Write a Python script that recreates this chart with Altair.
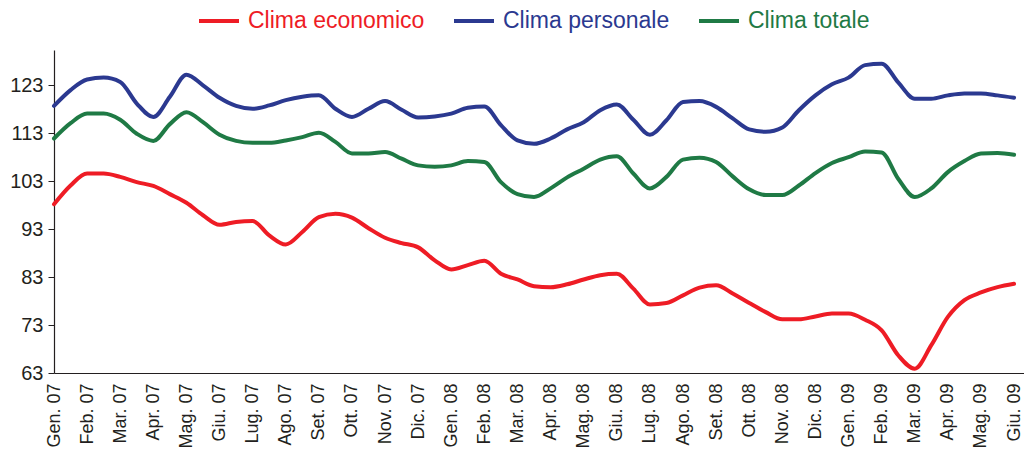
import altair as alt
import pandas as pd

months = ["Gen.", "Feb.", "Mar.", "Apr.", "Mag.", "Giu.", "Lug.", "Ago.", "Set.", "Ott.", "Nov.", "Dic."]
tick_labels = [f"{months[i % 12]} {7 + i // 12:02d}" for i in range(30)]

series_names = ["Clima economico", "Clima personale", "Clima totale"]
series_colors = ["#EE1C25", "#2B3990", "#1F7A45"]

# sample positions: half-month steps, Gen. 07 .. Giu. 09
t = [i / 2 for i in range(59)]

economico = [98.2, 102.1, 104.6, 104.6, 103.9, 102.8, 102.0, 100.3, 98.5, 95.9,
             93.9, 94.5, 94.7, 91.7, 89.8, 92.4, 95.5, 96.2, 95.4, 93.2,
             91.2, 90.1, 89.2, 86.5, 84.6, 85.5, 86.4, 83.7, 82.5, 81.1,
             80.9, 81.5, 82.5, 83.4, 83.7, 80.6, 77.3, 77.6, 79.2, 80.8,
             81.3, 79.6, 77.6, 75.7, 74.2, 74.2, 74.8, 75.4, 75.4, 74.1,
             71.9, 66.7, 63.9, 68.8, 74.7, 78.2, 79.8, 80.9, 81.6]

personale = [118.7, 122.0, 124.2, 124.6, 123.7, 119.2, 116.4, 120.6, 125.2, 123.0,
             120.4, 118.7, 118.1, 118.8, 119.9, 120.6, 120.9, 118.1, 116.4, 118.1,
             119.7, 117.9, 116.3, 116.5, 117.1, 118.3, 118.6, 114.7, 111.5, 110.8,
             111.9, 113.8, 115.3, 117.8, 119.0, 115.8, 112.7, 115.7, 119.5, 119.7,
             118.5, 116.1, 113.8, 113.3, 114.2, 117.8, 120.9, 123.2, 124.6, 127.2,
             127.5, 123.6, 120.2, 120.2, 120.9, 121.3, 121.3, 120.9, 120.4]

totale = [111.9, 115.1, 117.1, 117.1, 115.8, 112.9, 111.4, 114.9, 117.4, 115.3,
          112.7, 111.4, 111.0, 111.0, 111.5, 112.2, 113.1, 111.2, 108.8, 108.8,
          109.1, 107.7, 106.3, 106.0, 106.3, 107.2, 107.0, 102.8, 100.3, 99.7,
          101.5, 103.8, 105.6, 107.5, 108.2, 104.6, 101.5, 103.9, 107.5, 107.9,
          107.0, 104.0, 101.3, 100.1, 100.1, 102.1, 104.7, 106.8, 108.0, 109.2,
          109.0, 103.5, 99.7, 101.5, 104.9, 107.2, 108.8, 108.9, 108.5]

y_ticks = [63, 73, 83, 93, 103, 113, 123]

rows = []
for name, vals in zip(series_names, [economico, personale, totale]):
    for ti, v in zip(t, vals):
        rows.append({"t": ti, "valore": v, "serie": name})
df = pd.DataFrame(rows)

label_expr = "[" + ",".join(f"'{s}'" for s in tick_labels) + "][round(datum.value)]"

FONT = "Liberation Sans"

chart = alt.Chart(df).mark_line(strokeWidth=4, interpolate="monotone", strokeCap="round").encode(
    x=alt.X("t:Q",
            scale=alt.Scale(domain=[0, 29.3], nice=False, zero=False),
            axis=alt.Axis(values=list(range(30)), labelExpr=label_expr, labelAngle=-90,
                          ticks=False, tickSize=0, labelPadding=10, labelFontSize=18,
                          labelFont=FONT, labelColor="#231F20", domainColor="#231F20",
                          domainWidth=1.2, grid=False, title=None, labelOverlap=False,
                          labelFlush=False, labelBound=False)),
    y=alt.Y("valore:Q",
            scale=alt.Scale(domain=[63, 130.36], nice=False, zero=False),
            axis=alt.Axis(values=y_ticks, tickSize=6, tickColor="#231F20", tickWidth=1,
                          labelPadding=5, labelFontSize=20, labelFont=FONT,
                          labelColor="#231F20", domainColor="#231F20", domainWidth=1.2,
                          grid=False, title=None, labelFlush=False, labelBound=False)),
    color=alt.Color("serie:N",
                    scale=alt.Scale(domain=series_names, range=series_colors),
                    sort=series_names,
                    legend=alt.Legend(orient="none", legendX=143, legendY=-51,
                                      direction="horizontal", title=None,
                                      symbolType="stroke", symbolSize=1600,
                                      symbolStrokeWidth=4, labelFontSize=23,
                                      labelFont=FONT, columnPadding=21, labelOffset=7,
                                      padding=0, labelLimit=400,
                                      labelColor={"expr": "scale('color', datum.value)"})),
).properties(
    width=970,
    height=323,
    autosize=alt.AutoSizeParams(type="none"),
    padding={"left": 46, "top": 42, "right": 0, "bottom": 75},
).configure_view(stroke=None)

chart.save("out.html", embed_options={"renderer": "svg", "actions": False})
